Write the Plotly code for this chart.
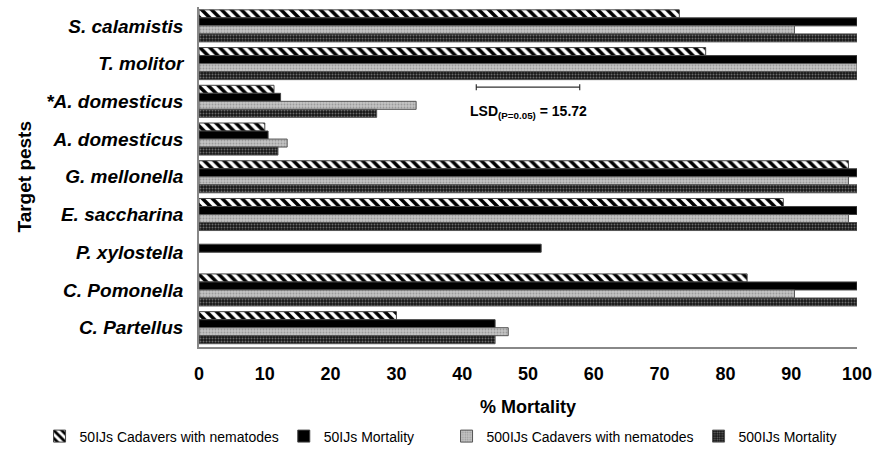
import plotly.graph_objects as go

# Target pests, top to bottom
pests = ["<i>S. calamistis</i>", "<i>T. molitor</i>", "<i>*A. domesticus</i>", "<i>A. domesticus</i>",
         "<i>G. mellonella</i>", "<i>E. saccharina</i>", "<i>P. xylostella</i>",
         "<i>C. Pomonella</i>", "<i>C. Partellus</i>"]

# % mortality per treatment (None = not recorded)
cad_50 = [73, 77, 11.4, 10, 98.7, 88.8, None, 83.3, 30]
mort_50 = [100, 100, 12.4, 10.5, 100, 100, 52, 100, 45]
cad_500 = [90.5, 100, 33, 13.4, 98.7, 98.7, None, 90.5, 47]
mort_500 = [100, 100, 27, 12, 100, 100, None, 100, 45]

series_names = ["50IJs Cadavers with nematodes", "50IJs Mortality",
                "500IJs Cadavers with nematodes", "500IJs Mortality"]

lsd = 15.72
lsd_center = 50

styles = [
    dict(color="white", line=dict(color="#444", width=1),
         pattern=dict(shape="\\", fgcolor="black", bgcolor="white", size=7, solidity=0.5, fillmode="replace")),
    dict(color="black", line=dict(color="#444", width=1)),
    dict(color="#b8b8b8", line=dict(color="#555", width=1),
         pattern=dict(shape=".", fgcolor="#9a9a9a", bgcolor="#c4c4c4", size=3, solidity=0.3, fillmode="replace")),
    dict(color="#1e1e1e", line=dict(color="#555", width=1),
         pattern=dict(shape=".", fgcolor="#6a6a6a", bgcolor="#161616", size=3, solidity=0.35, fillmode="replace")),
]
legend_ids = ["legend", "legend", "legend2", "legend2"]

fig = go.Figure()
for name, vals, st, lg in zip(series_names, [cad_50, mort_50, cad_500, mort_500], styles, legend_ids):
    fig.add_trace(go.Bar(x=vals, y=pests, orientation="h", name=name, marker=st, legend=lg))

# LSD bar on an overlay axis in plot-fraction units
fig.add_trace(go.Scatter(
    x=[lsd_center], y=[0.764], yaxis="y2", mode="markers", showlegend=False,
    marker=dict(size=1, color="rgba(0,0,0,0)"),
    error_x=dict(type="data", array=[lsd / 2], color="#333", thickness=1.2, width=3),
    hoverinfo="skip"))

fig.add_annotation(x=lsd_center, y=0.723, xref="x", yref="paper",
                   text="LSD<sub>(P=0.05)</sub> = 15.72", showarrow=False,
                   font=dict(family="Liberation Sans, Arial", size=14, color="black", weight="bold"))

legend_font = dict(family="Liberation Sans, Arial", size=14, color="black")

fig.update_layout(
    width=879, height=450,
    margin=dict(l=199, r=19, t=7, b=100),
    plot_bgcolor="white", paper_bgcolor="white",
    barmode="group", bargap=0.15, bargroupgap=0,
    font=dict(family="Liberation Sans, Arial", color="black"),
    showlegend=True,
    legend=dict(orientation="h", xref="container", yref="container", x=0.045, y=0.03,
                xanchor="left", yanchor="middle", font=legend_font,
                itemwidth=30, traceorder="normal"),
    legend2=dict(orientation="h", xref="container", yref="container", x=0.508, y=0.03,
                 xanchor="left", yanchor="middle", font=legend_font,
                 itemwidth=30, traceorder="normal"),
)

narrow_bold = dict(family="Liberation Sans Narrow, Arial Narrow, Liberation Sans", size=18,
                   color="black", weight="bold")

fig.update_layout(
    xaxis=dict(range=[0, 100], tickvals=list(range(0, 101, 10)), showgrid=False, zeroline=False,
               showline=True, linecolor="#888", linewidth=1.5, ticks="", ticklabelstandoff=10,
               tickfont=narrow_bold,
               title=dict(text="% Mortality", standoff=17, font=narrow_bold)),
    yaxis=dict(autorange="reversed", showgrid=False, zeroline=False, showline=True,
               linecolor="#888", linewidth=1.5, ticks="", ticklabelstandoff=10,
               tickfont=dict(family="Liberation Sans, Arial", size=19, color="black", weight="bold"),
               title=dict(text="Target pests", standoff=10,
                          font=dict(family="Liberation Sans, Arial", size=19, color="black", weight="bold"))),
    yaxis2=dict(overlaying="y", range=[0, 1], visible=False),
)

fig.write_html("out.html")
